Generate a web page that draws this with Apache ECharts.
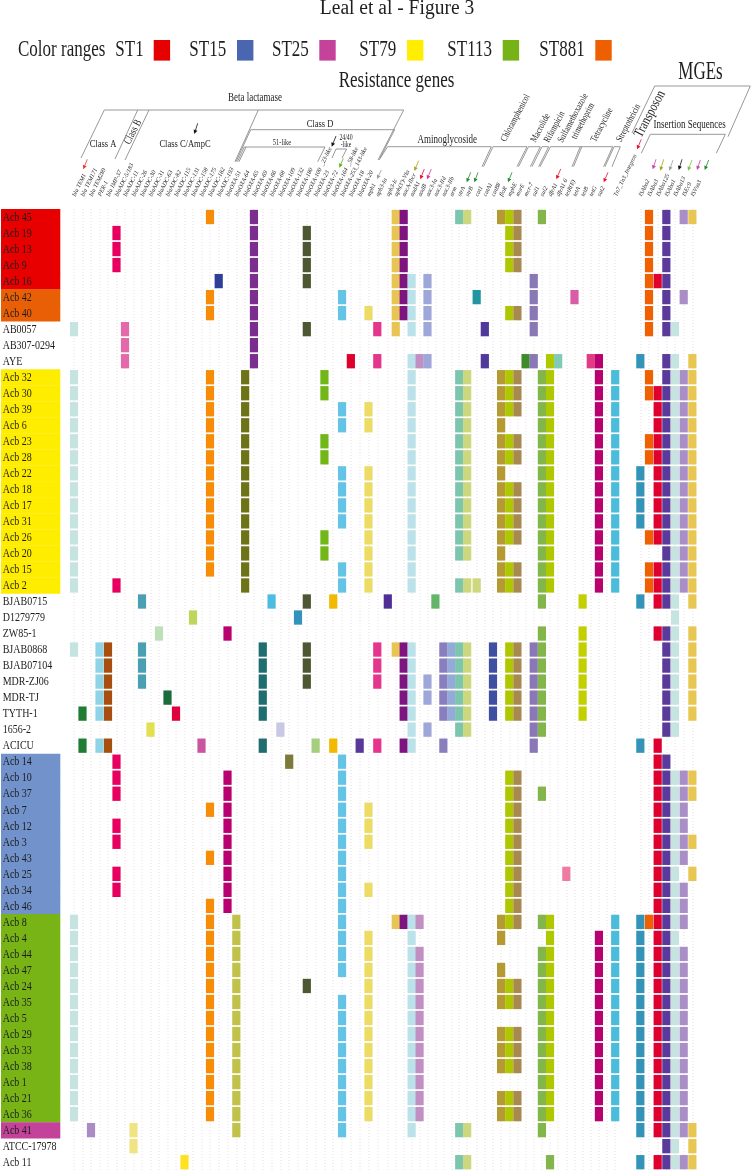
<!DOCTYPE html>
<html><head><meta charset="utf-8"><title>Leal et al - Figure 3</title>
<style>html,body{margin:0;padding:0;background:#fff}#c{width:752px;height:1172px}</style>
<script src="https://cdn.jsdelivr.net/npm/echarts@6/dist/echarts.min.js"></script></head>
<body><div id="c"></div><script>
// ---------- DATA ----------
const stNames = ['ST1','ST15','ST25','ST79','ST113','ST881'];
const stLegendColors = ['#e60000','#4a66b0','#c4429a','#ffee00','#75b316','#ee5f00'];
const stPanelColors = {ST1:'#e80000',ST15:'#7192cb',ST25:'#c4439a',ST79:'#ffed00',ST113:'#78b416',ST881:'#e85f05'};
const strains = ['Acb 45','Acb 19','Acb 13','Acb 9','Acb 16','Acb 42','Acb 40','AB0057','AB307-0294','AYE',
 'Acb 32','Acb 30','Acb 39','Acb 6','Acb 23','Acb 28','Acb 22','Acb 18','Acb 17','Acb 31','Acb 26','Acb 20','Acb 15','Acb 2',
 'BJAB0715','D1279779','ZW85-1','BJAB0868','BJAB07104','MDR-ZJ06','MDR-TJ','TYTH-1','1656-2','ACICU',
 'Acb 14','Acb 10','Acb 37','Acb 7','Acb 12','Acb 3','Acb 43','Acb 25','Acb 34','Acb 46',
 'Acb 8','Acb 4','Acb 44','Acb 47','Acb 24','Acb 35','Acb 5','Acb 29','Acb 33','Acb 38','Acb 1','Acb 21','Acb 36',
 'Acb 41','ATCC-17978','Acb 11'];
const strainST = ['ST1','ST1','ST1','ST1','ST1','ST881','ST881','','','',
 'ST79','ST79','ST79','ST79','ST79','ST79','ST79','ST79','ST79','ST79','ST79','ST79','ST79','ST79',
 '','','','','','','','','','',
 'ST15','ST15','ST15','ST15','ST15','ST15','ST15','ST15','ST15','ST15',
 'ST113','ST113','ST113','ST113','ST113','ST113','ST113','ST113','ST113','ST113','ST113','ST113','ST113',
 'ST25','',''];
const genes = ['bla TEM1','bla TEM171','bla TEM289','PER-1','bla IMP-37','blaADC-5/183','blaADC-11','blaADC-26','blaADC-30','blaADC-31','blaADC-63','blaADC-82','blaADC-115','blaADC-131','blaADC-158','blaADC-175','blaADC-182',
 'blaADC-193','blaOXA-51','blaOXA-64','blaOXA-65','blaOXA-69','blaOXA-66','blaOXA-68','blaOXA-109','blaOXA-132','blaOXA-180','blaOXA-100  _23-like','blaOXA-23','blaOXA-72','blaOXA-164  _58-like','blaOXA-253_143-like','blaOXA-18','blaOXA-20','mph1','aph3-Ia',
 'aph3-Ic',"aph(3')-VIa",'aacA-Ibcr','aadA1','aadB','aac3-Ia','aac3-IId','aac3-IIb','arm','strA','strB',
 'cat1','catA1','catB8','floR','mphE','msrE','mcr-7','sul1','sul2','dfrA1','dfrA1 6','tetR(E)','tetA','tetB','tetG','sat2','','Tn7_Tn3_Integron','','',
 'ISAba2','ISAba3','ISAba125','ISAba1','ISAba13','ISEc9','ISVsa3'];
const geneColors = ['#c5e3e0','#1e7d32','#a98cc4','#8fd3e6','#a84f10','#e8005f','#e26aa8','#efe384','#4a9fb3','#e3e050','#bfdfbb','#1c6b3a','#e0003c','#ffe21f','#bdd65b','#c9559f','#f78c06',
 '#2f3f99','#b8006f','#c1c24c','#6f7318','#7a2e8e','#1f6d6f','#4cbde0','#c8c8e4','#7c7a3a','#3393bd','#4d5832','#a3cf7f','#71b717','#f1b900','#63c4e5','#e0002e','#59389a','#ecdc66','#e5358c',
 '#4f2f95','#e8c553','#7d1480','#bae2e8','#c090c3','#9fa7d8','#63b56a','#8a7fbd','#94aad8','#7dc6ae','#cdd87e',
 '#2195a1','#50399a','#3f50a3','#b59a33','#afc700','#a88950','#3f8b2a','#8a77b5','#83b64a','#b0c800','#7fcbb5','#ef7ba3','#d85ca6','#c2d000','#e03b84','#b8006f','#ffffff','#4bbcd9','#ffffff','#ffffff',
 '#3394b8','#f06000','#e00030','#5a3a9a','#c5e3df','#a98fc6','#e8c653'];
// presence: column numbers (in genes) carried by each strain, one line per strain
const presence = [
 [16,21,37,38,45,46,50,51,52,55,68,70,72,73],
 [5,21,27,37,38,51,52,68,70],
 [5,21,27,37,38,51,52,68,70],
 [5,21,27,37,38,51,52,68,70],
 [17,21,27,37,38,39,41,54,68,69,70],
 [16,21,31,37,38,39,41,47,54,59,68,70,72],
 [16,21,31,34,37,38,39,41,51,52,54,68,70],
 [0,6,21,27,35,37,39,41,48,54,68,70,71],
 [6,21],
 [6,21,32,35,39,40,41,48,53,54,56,57,61,62,67,70,71,73],
 [0,16,20,29,39,45,46,50,51,52,55,56,62,64,68,70,71,72,73],
 [0,16,20,29,39,45,46,50,51,52,55,56,62,64,68,69,70,71,72,73],
 [0,16,20,31,34,39,45,46,50,51,52,55,56,62,64,69,70,71,72,73],
 [0,16,20,31,34,39,45,46,50,55,56,62,64,69,70,71,72,73],
 [0,16,20,29,39,45,46,50,51,52,55,56,62,64,68,69,70,71,72,73],
 [0,16,20,29,39,45,46,50,51,52,55,56,62,64,68,69,70,71,72,73],
 [0,16,20,31,34,39,45,46,50,55,56,62,64,67,69,70,71,72,73],
 [0,16,20,31,34,39,45,46,50,51,52,55,56,62,64,67,69,70,71,72,73],
 [0,16,20,31,34,39,45,46,50,51,52,55,56,62,64,67,69,70,71,72,73],
 [0,16,20,31,34,39,45,46,50,51,52,55,56,62,64,67,69,70,71,72,73],
 [0,16,20,29,34,39,45,46,50,51,52,55,56,62,64,68,69,70,71,72,73],
 [0,16,20,29,34,39,45,46,50,55,56,62,64,70,71,72,73],
 [0,16,20,31,34,39,50,51,52,55,56,62,64,68,69,70,71,72,73],
 [0,5,20,31,34,39,45,46,47,50,51,52,55,56,62,64,68,69,70,71,72,73],
 [8,23,27,30,36,42,55,60,67,69,70,71,73],
 [14,26,71],
 [10,18,55,60,69,70,71,73],
 [0,3,4,8,22,27,35,37,38,39,43,44,45,46,49,51,52,54,55,60,70,71,73],
 [3,4,8,22,27,35,38,39,43,44,45,46,49,51,52,54,55,60,70,71,73],
 [3,4,8,22,27,35,38,39,41,43,44,45,46,49,51,52,54,55,60,70,71,73],
 [3,4,11,22,38,39,41,43,44,45,46,49,51,52,54,55,60,70,71,73],
 [1,3,4,12,22,38,39,43,44,45,46,49,51,52,54,55,60,70,71,73],
 [9,24,39,41,45,46,54,55,70,71],
 [1,3,4,15,22,28,30,33,35,38,39,43,54,67,69],
 [5,25,31,69,70],
 [5,18,31,51,52,69,70,71,72,73],
 [5,18,31,51,52,55,69,70,71,72,73],
 [16,18,31,34,51,52,69,70,71,72],
 [5,18,31,34,51,52,69,70,71,72],
 [5,18,31,34,51,52,69,70,71,72,73],
 [16,18,31,51,52,69,70,71,72],
 [5,18,31,51,52,58,69,70,71,73],
 [5,18,31,34,51,52,69,70,71,72],
 [16,18,31,51,52,69,70,71,72],
 [0,16,19,31,37,38,39,40,50,51,52,55,56,64,67,68,69,70,71,72],
 [0,16,19,31,34,39,50,56,62,64,67,69,70,71],
 [0,16,19,31,34,39,40,55,56,62,64,67,69,70,71,72],
 [0,16,19,31,34,39,40,50,55,56,62,64,67,69,70,71,72],
 [0,16,19,27,34,39,40,50,51,52,55,56,62,64,67,69,70,71,72],
 [0,16,19,31,34,39,40,50,51,52,55,56,62,64,67,69,70,71,72],
 [0,16,19,31,34,39,40,55,56,62,64,67,69,70,71,72],
 [0,16,19,31,34,39,40,50,51,52,55,56,62,64,67,69,70,71,72],
 [0,16,19,31,34,39,40,50,51,52,55,56,62,64,67,69,70,71,72],
 [0,16,19,31,34,39,40,50,51,52,55,56,62,64,67,69,70,71,72],
 [0,16,19,31,34,39,40,55,56,62,64,67,69,70,71,72],
 [0,16,19,31,34,39,40,50,51,52,55,56,62,64,67,69,70,71,72],
 [0,16,19,31,34,39,40,50,51,52,55,56,62,64,67,69,70,71,72],
 [2,7,19,31,39,45,46,55,67,69,70,71,72,73],
 [7,70,71,73],
 [13,45,46,56,67,69,70,71,72,73]
];
// cells painted in a neighbouring column's colour: [strain row, column, colour from column]
const colourOverrides = [[23,47,46],[59,56,55]];
const title = 'Leal et al - Figure 3';

// ---------- LAYOUT ----------
const gridTop = 209, gridH = 961.2, cellW = 8.2, cellH = 14.3, labelGene = 6.1;
// column ranges drawn as panels: [first, last, left, width]
const panels = [[0,16,69.75,144.5],[17,35,214.3,167.4],[36,46,383.83,87.3],[47,64,472.6,146.7],[67,73,636,60.7]];
const serif = '"Liberation Serif","Times New Roman",serif';

const grid=[{left:1,top:gridTop,width:59.3,height:gridH}], xAxis=[{gridIndex:0,type:'category',data:['ST'],show:false}],
 yAxis=[{gridIndex:0,type:'category',data:strains,inverse:true,show:false}];
const series=[{type:'custom',xAxisIndex:0,yAxisIndex:0,silent:true,
 data:strains.map((s,i)=>[0,i]),
 renderItem(p,api){
  const i=p.dataIndex,c=api.coord([0,api.value(1)]),sz=api.size([1,1]),st=strainST[i],kids=[];
  if(st)kids.push({type:'rect',shape:{x:c[0]-sz[0]/2,y:c[1]-sz[1]/2,width:sz[0],height:sz[1]+.3},style:{fill:stPanelColors[st]}});
  kids.push({type:'text',x:c[0]-sz[0]/2+1.7,y:c[1]+.3,scaleY:1.32,style:{text:strains[i],font:'10px '+serif,fill:'#1c1c1c',verticalAlign:'middle',align:'left'}});
  return {type:'group',children:kids};
 }}];
panels.forEach((pn,pi)=>{
 const [a,b,left,width]=pn, idx=pi+1, names=genes.slice(a,b+1), cells=[];
 presence.forEach((cols,row)=>cols.forEach(k=>{
  if(k<a||k>b)return;
  const o=colourOverrides.find(v=>v[0]===row&&v[1]===k);
  cells.push({x:k-a,row,color:geneColors[o?o[2]:k]});
 }));
 grid.push({left,top:gridTop,width,height:gridH});
 xAxis.push({gridIndex:idx,type:'category',position:'top',data:names,
  axisLine:{show:false},axisTick:{show:false},
  splitLine:{show:true,alignWithLabel:true,interval:0,lineStyle:{color:'#f3eff0',width:2,type:[1,2]}},
  axisLabel:{interval:0,rotate:-64,margin:13,align:'left',verticalAlign:'middle',hideOverlap:false,fontFamily:serif,fontStyle:'italic',fontSize:labelGene,color:'#1a1a1a'}});
 yAxis.push({gridIndex:idx,type:'category',data:strains,inverse:true,show:false});
 series.push({type:'custom',xAxisIndex:idx,yAxisIndex:idx,silent:true,
  data:cells.map(c=>[c.x,c.row]),
  renderItem(p,api){
   const c=api.coord([api.value(0),api.value(1)]);
   return {type:'rect',shape:{x:c[0]-cellW/2,y:c[1]-cellH/2,width:cellW,height:cellH},style:{fill:cells[p.dataIndex].color}};
  }});
});

// ---------- HEADER ANNOTATIONS ----------
const g=[];
const txt=(text,x,y,size,o={})=>g.push({type:'text',x,y,rotation:(o.rot||0)*Math.PI/180,scaleY:o.sy||1.3,silent:true,
 style:{text,font:(o.style||'')+' '+size+'px '+serif,fill:o.fill||'#1e1e1e',align:o.align||'center',verticalAlign:'middle'}});
const ln=(pts,w,col)=>g.push({type:'polyline',silent:true,shape:{points:pts},style:{stroke:col||'#7d7d7d',lineWidth:w||.8,fill:null}});
const arrow=(x1,y1,x2,y2,col)=>{
 const d=Math.hypot(x2-x1,y2-y1),ux=(x2-x1)/d,uy=(y2-y1)/d,bx=x2-ux*4,by=y2-uy*4;
 g.push({type:'line',silent:true,shape:{x1,y1,x2:bx,y2:by},style:{stroke:col,lineWidth:.8}});
 g.push({type:'polygon',silent:true,shape:{points:[[x2,y2],[bx-uy*2,by+ux*2],[bx+uy*2,by-ux*2]]},style:{fill:col}});
};
txt(title,397,9,19.5,{sy:1.05});
txt('Color ranges',18,50,17,{align:'left'});
const legX=[115.3,189.3,272,359.3,447.3,539.3], legB=[153.7,237,319.3,407,502.7,595.3];
stNames.forEach((n,i)=>{txt(n,legX[i],50,17,{align:'left'});
 g.push({type:'rect',silent:true,shape:{x:legB[i],y:40,width:16.4,height:20.6},style:{fill:stLegendColors[i]}});});
txt('Resistance genes',396.5,81,17,{sy:1.4});
txt('MGEs',700.5,72,17,{sy:1.5});
txt('Beta lactamase',255,98,9);
txt('Class A',103,144,8.5);txt('Class B',133,132,8.5,{rot:62});txt('Class C/AmpC',185,144,8.5);
txt('Class D',320,124,8.5);txt('51-like',282,143,6.5);txt('24/40',346,138,5.8);txt('-like',346,145,5.8);
txt('Aminoglycoside',447.3,140,9);txt('Chloramphenicol',515.5,118,7.5,{rot:62});
txt('Macrolide',540.5,128,7.5,{rot:62});txt('Rifampicin',554.5,127,7.5,{rot:62});
txt('Sulfamethoxazole',573,118,7.5,{rot:62});txt('trimethoprim',583,121,7.5,{rot:62});
txt('Tetracycline',602,125,7.5,{rot:62});txt('Streptothricin',628.5,123,7.5,{rot:62});
txt('Transposon',650,114,11,{rot:62,sy:1.3});txt('Insertion Sequences',689.7,125,9);
// brackets
ln([[81,158],[104.3,110],[403.7,110],[378,160]]);
ln([[115,159],[137.7,110]]);ln([[125,160],[149,110]]);ln([[235,161.7],[258.3,110]]);
ln([[236,161.7],[250.7,129.7],[394.7,129.7],[380,158]]);
ln([[237.5,161.7],[244.3,147],[325,147],[317.7,161.7]]);ln([[239,161.7],[246,147]]);
ln([[332,158],[336,149],[346.7,149],[342,158]]);
ln([[379,160],[387.7,146.7],[491.3,146.7],[482,166.7]]);ln([[483.5,166.7],[493,146.7],[527,146.7],[517,166.7]]);
ln([[518.5,166.7],[528.5,146.7],[540.3,146.7],[530.3,166.7]]);ln([[532,166.7],[542,146.7],[548.7,146.7],[538.7,166.7]]);
ln([[540,166.7],[550.5,146.7],[612.7,146.7],[603.7,166.7]]);ln([[572,166.7],[580.3,146.7]]);ln([[573.5,166.7],[581.8,146.7]]);
ln([[605,166.7],[614,146.7],[620.3,146.7],[612,166.7]]);
ln([[632,133],[654.7,86],[750.3,86],[728,136.7]]);
ln([[641.3,153.3],[650.3,134.3],[725.3,134.3],[716.3,153.3]]);
// gene arrows
[[87.3,159.3,83.3,169.3,'#e63a2c'],[197.7,123.3,194.3,134,'#111'],[336,136,331.7,146.7,'#111'],[343.3,158.3,339.3,167.7,'#5ab50f'],
 [381.3,170,377,179,'#9a9a9a'],[418.7,160.7,414.3,171,'#a7a31a'],[424.3,169,420.3,179.3,'#e8102a'],[431.3,169,427,179.3,'#d23b9c'],
 [470.7,172.3,466.7,182.3,'#1f8a2e'],[478,172.3,474.3,182.3,'#1f8a2e'],[512,172.3,508,182.3,'#1f8a2e'],[560.7,169,556.3,179.3,'#e8102a'],
 [608,172.3,603.7,182.3,'#e8102a'],[641.3,139.3,637,149.3,'#e8102a'],[656,159.3,652.7,169.3,'#c93ea3'],[663.7,159.3,660.3,170.7,'#a9a21a'],
 [673,160,669.3,170.7,'#a0a0a0'],[682,159.3,678.7,170,'#111'],[692,160,688,170.7,'#7cc23c'],[700.3,160,697,170,'#cf3ea0'],[708.7,160,704.7,170,'#1f8a2e']
].forEach(a=>arrow(...a));

const chart=echarts.init(document.getElementById('c'),null,{renderer:'canvas'});
chart.setOption({animation:false,backgroundColor:'#fff',grid,xAxis,yAxis,series,graphic:{elements:g}});
</script></body></html>
